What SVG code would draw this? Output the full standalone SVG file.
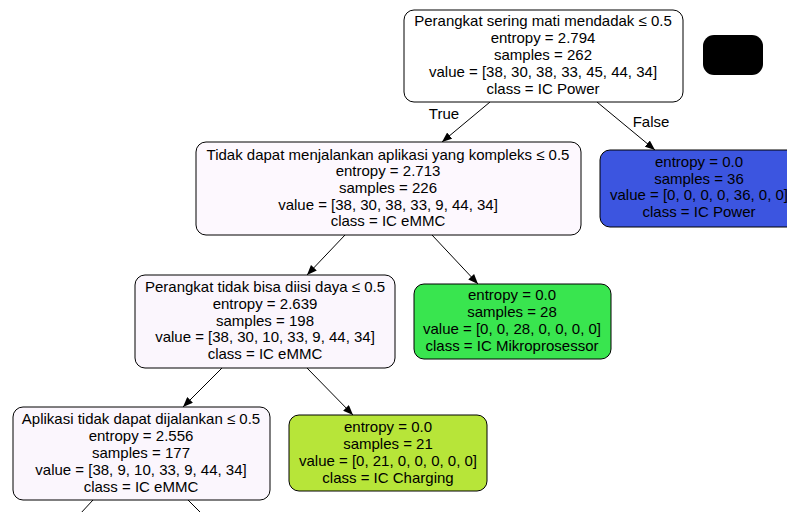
<svg xmlns="http://www.w3.org/2000/svg" width="787" height="512" viewBox="0 0 787 512">
  <defs>
    <style>
      .box { stroke: #000; stroke-width: 1; }
      .t { font-family: "Liberation Sans", Arial, sans-serif; font-size: 15px; text-anchor: middle; fill: #000; }
      .edge { stroke: #000; stroke-width: 1; fill: none; marker-end: url(#arrow); }
    </style>
    <marker id="arrow" markerWidth="10" markerHeight="8" refX="10" refY="4" orient="auto" markerUnits="userSpaceOnUse">
      <path d="M0,0 L10,4 L0,8 Z" fill="#000"/>
    </marker>
  </defs>
  <rect width="787" height="512" fill="#fff"/>

  <!-- connectors -->
  <g id="edges">
    <line class="edge" x1="490" y1="102" x2="442" y2="142"/>
    <line class="edge" x1="597" y1="102" x2="655" y2="150"/>
    <line class="edge" x1="345" y1="235" x2="307" y2="275"/>
    <line class="edge" x1="432" y1="235" x2="478" y2="284"/>
    <line class="edge" x1="222" y1="368" x2="183" y2="407"/>
    <line class="edge" x1="307" y1="368" x2="353" y2="415"/>
    <line stroke="#000" x1="93" y1="500" x2="80" y2="514"/>
    <line stroke="#000" x1="188" y1="500" x2="202" y2="514"/>
    <text class="t" x="444" y="119">True</text>
    <text class="t" x="651" y="127">False</text>
  </g>

  <g id="node0">
    <rect class="box" x="404" y="10" width="279" height="92" rx="10" fill="#fff"/>
    <text class="t" x="543" y="26">Perangkat sering mati mendadak ≤ 0.5</text>
    <text class="t" x="543" y="43">entropy = 2.794</text>
    <text class="t" x="543" y="60">samples = 262</text>
    <text class="t" x="543" y="77">value = [38, 30, 38, 33, 45, 44, 34]</text>
    <text class="t" x="543" y="94">class = IC Power</text>
  </g>

  <g id="legend">
    <rect x="703" y="35" width="60" height="40" rx="11" fill="#000"/>
  </g>

  <g id="node1">
    <rect class="box" x="196" y="142" width="385" height="93" rx="10" fill="#fdf8fe"/>
    <text class="t" x="388" y="160">Tidak dapat menjalankan aplikasi yang kompleks ≤ 0.5</text>
    <text class="t" x="388" y="176">entropy = 2.713</text>
    <text class="t" x="388" y="193">samples = 226</text>
    <text class="t" x="388" y="210">value = [38, 30, 38, 33, 9, 44, 34]</text>
    <text class="t" x="388" y="226">class = IC eMMC</text>
  </g>

  <g id="node8">
    <rect class="box" x="600" y="150" width="200" height="77" rx="10" fill="#3c55e0"/>
    <text class="t" x="699" y="167">entropy = 0.0</text>
    <text class="t" x="699" y="184">samples = 36</text>
    <text class="t" x="699" y="200">value = [0, 0, 0, 0, 36, 0, 0]</text>
    <text class="t" x="699" y="217">class = IC Power</text>
  </g>

  <g id="node2">
    <rect class="box" x="135" y="275" width="260" height="93" rx="10" fill="#fbf6fd"/>
    <text class="t" x="265" y="292">Perangkat tidak bisa diisi daya ≤ 0.5</text>
    <text class="t" x="265" y="309">entropy = 2.639</text>
    <text class="t" x="265" y="326">samples = 198</text>
    <text class="t" x="265" y="342">value = [38, 30, 10, 33, 9, 44, 34]</text>
    <text class="t" x="265" y="359">class = IC eMMC</text>
  </g>

  <g id="node7">
    <rect class="box" x="414" y="284" width="197" height="75" rx="10" fill="#39e54f"/>
    <text class="t" x="512" y="300">entropy = 0.0</text>
    <text class="t" x="512" y="317">samples = 28</text>
    <text class="t" x="512" y="334">value = [0, 0, 28, 0, 0, 0, 0]</text>
    <text class="t" x="512" y="351">class = IC Mikroprosessor</text>
  </g>

  <g id="node3">
    <rect class="box" x="13" y="407" width="257" height="93" rx="10" fill="#fbf6fd"/>
    <text class="t" x="141" y="424">Aplikasi tidak dapat dijalankan ≤ 0.5</text>
    <text class="t" x="141" y="441">entropy = 2.556</text>
    <text class="t" x="141" y="458">samples = 177</text>
    <text class="t" x="141" y="475">value = [38, 9, 10, 33, 9, 44, 34]</text>
    <text class="t" x="141" y="492">class = IC eMMC</text>
  </g>

  <g id="node6">
    <rect class="box" x="289" y="415" width="198" height="76" rx="10" fill="#b7e539"/>
    <text class="t" x="388" y="432">entropy = 0.0</text>
    <text class="t" x="388" y="449">samples = 21</text>
    <text class="t" x="388" y="466">value = [0, 21, 0, 0, 0, 0, 0]</text>
    <text class="t" x="388" y="483">class = IC Charging</text>
  </g>
</svg>
